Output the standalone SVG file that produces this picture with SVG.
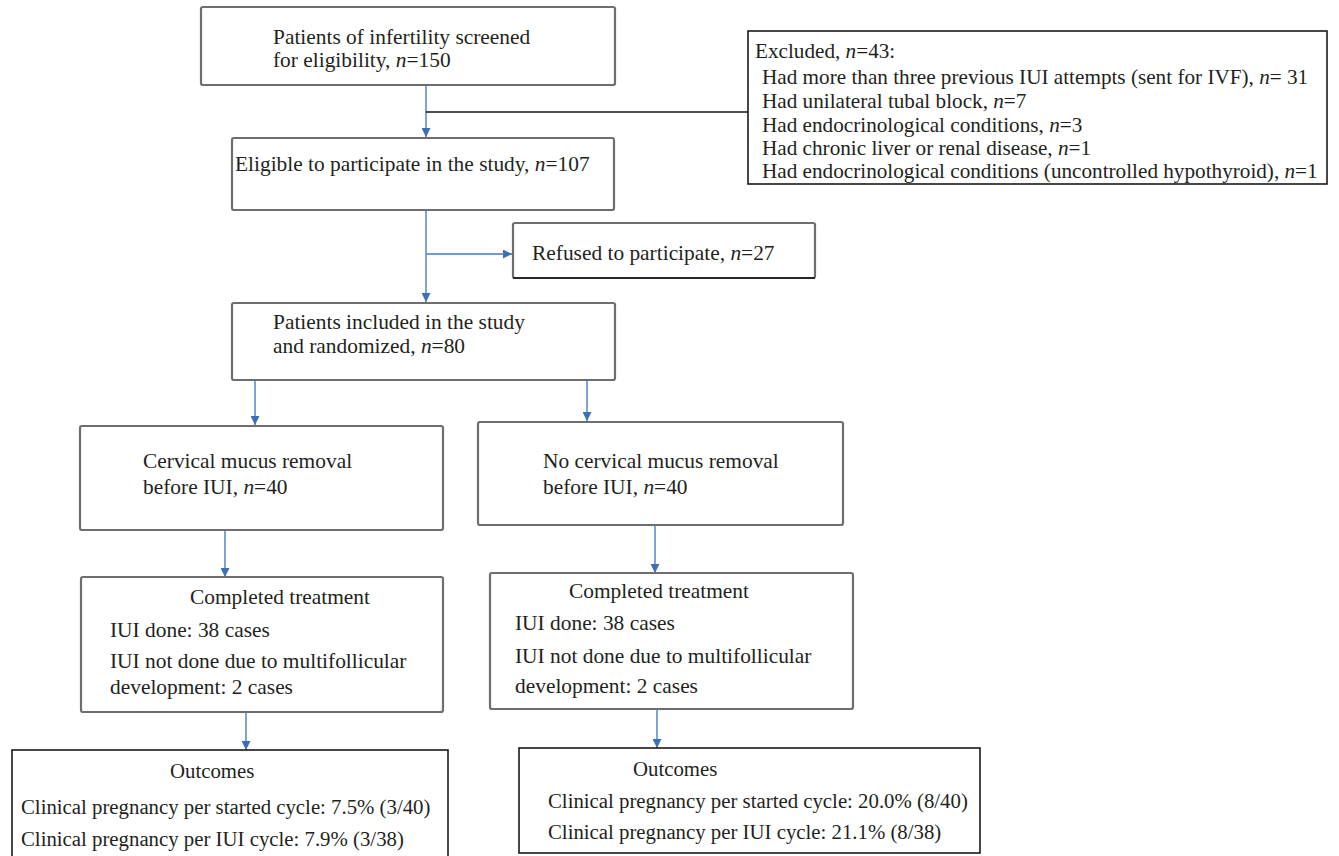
<svg xmlns="http://www.w3.org/2000/svg" width="1339" height="856" viewBox="0 0 1339 856">
<defs>
<marker id="ah" markerWidth="10" markerHeight="9" refX="9" refY="4.5" orient="auto" markerUnits="userSpaceOnUse">
<path d="M0,0 L9,4.5 L0,9 z" fill="#3d6fb4"/>
</marker>
<style>
.box{fill:#fff;stroke:#6e6e6e;stroke-width:2.2}
.bbox{fill:#fff;stroke:#1a1a1a;stroke-width:1.6}
.t{font-family:"Liberation Serif","Times New Roman",serif;font-size:21.4px;fill:#231f20}
.s{font-family:"Liberation Serif","Times New Roman",serif;font-size:21.2px;fill:#231f20}
.o{font-family:"Liberation Serif","Times New Roman",serif;font-size:20.8px;fill:#231f20}
.i{font-style:italic}
.arr{stroke:#6f9bd1;stroke-width:1.8;fill:none;marker-end:url(#ah)}
.blk{stroke:#111;stroke-width:1.6;fill:none}
</style>
</defs>
<rect width="1339" height="856" fill="#fff"/>
<g id="connectors">
<line class="arr" x1="426" y1="86" x2="426" y2="137"/>
<line class="blk" x1="426" y1="112" x2="748" y2="112"/>
<line class="arr" x1="426" y1="211" x2="426" y2="302"/>
<line class="arr" x1="426" y1="254" x2="512" y2="254"/>
<line class="arr" x1="255" y1="381" x2="255" y2="425"/>
<line class="arr" x1="587" y1="381" x2="587" y2="421"/>
<line class="arr" x1="225" y1="531" x2="225" y2="577"/>
<line class="arr" x1="655" y1="526" x2="655" y2="573"/>
<line class="arr" x1="246" y1="713" x2="246" y2="750"/>
<line class="arr" x1="657" y1="710" x2="657" y2="748"/>
</g>
<g id="screened">
<rect class="box" x="201" y="7" width="414" height="78" rx="2"/>
<text class="t" x="273" y="44">Patients of infertility screened</text>
<text class="t" x="273" y="67">for eligibility, <tspan class="i">n</tspan>=150</text>
</g>
<g id="excluded">
<rect class="bbox" x="748" y="31" width="579" height="153"/>
<text class="s" x="755" y="58">Excluded, <tspan class="i">n</tspan>=43:</text>
<text class="s" x="762" y="84">Had more than three previous IUI attempts (sent for IVF), <tspan class="i">n</tspan>= 31</text>
<text class="s" x="762" y="108">Had unilateral tubal block, <tspan class="i">n</tspan>=7</text>
<text class="s" x="762" y="132">Had endocrinological conditions, <tspan class="i">n</tspan>=3</text>
<text class="s" x="762" y="155">Had chronic liver or renal disease, <tspan class="i">n</tspan>=1</text>
<text class="s" x="762" y="178">Had endocrinological conditions (uncontrolled hypothyroid), <tspan class="i">n</tspan>=1</text>
</g>
<g id="eligible">
<rect class="box" x="232" y="138" width="382" height="72" rx="2"/>
<text class="t" x="235" y="171">Eligible to participate in the study, <tspan class="i">n</tspan>=107</text>
</g>
<g id="refused">
<rect class="box" x="513" y="223" width="302" height="55" rx="2"/>
<line class="blk" x1="513" y1="278" x2="815" y2="278"/>
<text class="t" x="532" y="260">Refused to participate, <tspan class="i">n</tspan>=27</text>
</g>
<g id="randomized">
<rect class="box" x="232" y="303" width="383" height="77" rx="2"/>
<text class="t" x="273" y="329">Patients included in the study</text>
<text class="t" x="273" y="353">and randomized, <tspan class="i">n</tspan>=80</text>
</g>
<g id="removal">
<rect class="box" x="80" y="426" width="363" height="104" rx="2"/>
<text class="t" x="143" y="468">Cervical mucus removal</text>
<text class="t" x="143" y="494">before IUI, <tspan class="i">n</tspan>=40</text>
</g>
<g id="noremoval">
<rect class="box" x="478" y="422" width="365" height="103" rx="2"/>
<text class="t" x="543" y="468">No cervical mucus removal</text>
<text class="t" x="543" y="494">before IUI, <tspan class="i">n</tspan>=40</text>
</g>
<g id="completed1">
<rect class="box" x="81" y="577" width="362" height="135" rx="2"/>
<text class="t" x="190" y="604">Completed treatment</text>
<text class="t" x="110" y="637">IUI done: 38 cases</text>
<text class="t" x="110" y="668">IUI not done due to multifollicular</text>
<text class="t" x="110" y="694">development: 2 cases</text>
</g>
<g id="completed2">
<rect class="box" x="490" y="573" width="363" height="136" rx="2"/>
<text class="t" x="569" y="598">Completed treatment</text>
<text class="t" x="515" y="630">IUI done: 38 cases</text>
<text class="t" x="515" y="663">IUI not done due to multifollicular</text>
<text class="t" x="515" y="693">development: 2 cases</text>
</g>
<g id="outcomes1">
<rect class="bbox" x="12" y="750" width="436" height="110"/>
<text class="o" x="170" y="778">Outcomes</text>
<text class="o" x="21" y="814">Clinical pregnancy per started cycle: 7.5% (3/40)</text>
<text class="o" x="21" y="846">Clinical pregnancy per IUI cycle: 7.9% (3/38)</text>
</g>
<g id="outcomes2">
<rect class="bbox" x="519" y="748" width="461" height="105"/>
<text class="o" x="633" y="776">Outcomes</text>
<text class="o" x="548" y="808">Clinical pregnancy per started cycle: 20.0% (8/40)</text>
<text class="o" x="548" y="839">Clinical pregnancy per IUI cycle: 21.1% (8/38)</text>
</g>
</svg>
